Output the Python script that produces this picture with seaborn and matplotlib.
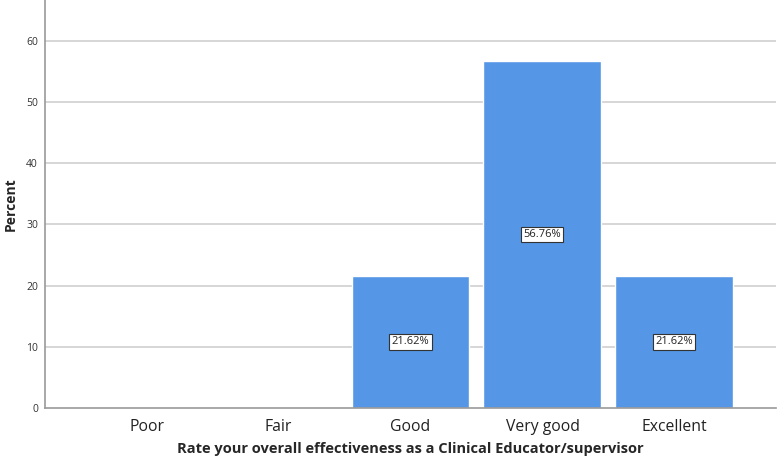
import matplotlib
matplotlib.use("Agg")
import matplotlib.pyplot as plt
import seaborn as sns
import pandas as pd

categories = ["Poor", "Fair", "Good", "Very good", "Excellent"]
percents = [0.0, 0.0, 21.62, 56.76, 21.62]
yticks = [0, 10, 20, 30, 40, 50, 60]

sns.set_style("white")
plt.rcParams['font.family'] = ['Open Sans', 'DejaVu Sans']

df = pd.DataFrame({"cat": categories, "pct": percents})

fig = plt.figure(figsize=(7.78, 4.61), dpi=100)
ax = fig.add_axes([45/778, 1-408/461, (776-45)/778, 408/461])

sns.barplot(data=df, x="cat", y="pct", order=categories, color="#5596E6",
            saturation=1, width=0.894, ax=ax, zorder=2)

ax.set_ylim(0, 66.7)
ax.set_xlim(-0.77, 4.77)
ax.set_yticks(yticks)
ax.set_yticklabels([str(t) for t in yticks], fontsize=7.5, color="#333333")
ax.tick_params(axis='x', labelsize=11.3, colors="#222222", length=0, pad=8)
ax.tick_params(axis='y', length=0, pad=5)
for t in yticks[1:]:
    ax.axhline(t, color="#d0d0d0", lw=1.2, zorder=1)

for s in ["top", "right"]:
    ax.spines[s].set_visible(False)
for s in ["left", "bottom"]:
    ax.spines[s].set_color("#999999")
    ax.spines[s].set_linewidth(1.2)
    ax.spines[s].set_zorder(3)

ax.set_ylabel("Percent", fontsize=10, fontweight="bold", labelpad=6)
ax.set_xlabel("Rate your overall effectiveness as a Clinical Educator/supervisor",
              fontsize=10.5, fontweight="bold", labelpad=5)

for i, v in enumerate(percents):
    if v > 0:
        ax.text(i, v / 2, f"{v:.2f}%", ha="center", va="center", fontsize=8,
                color="#222222", zorder=4,
                bbox=dict(boxstyle="square,pad=0.2", facecolor="white",
                          edgecolor="#333333", linewidth=0.8))

fig.savefig("out.png", dpi=100)
